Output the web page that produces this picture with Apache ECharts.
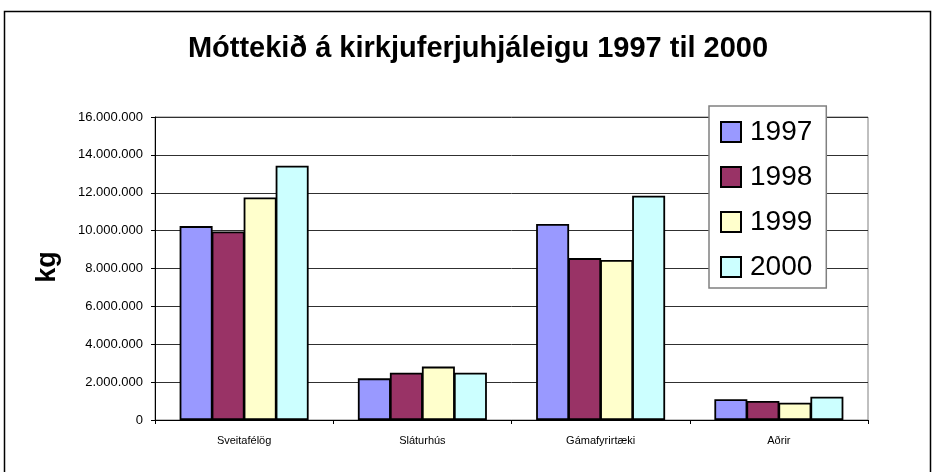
<!DOCTYPE html>
<html>
<head>
<meta charset="utf-8">
<script src="https://cdn.jsdelivr.net/npm/echarts@6/dist/echarts.min.js"></script>
<style>
html,body{margin:0;padding:0;background:#fff;}
#c{width:935px;height:472px;}
</style>
</head>
<body>
<div id="c"></div>
<script>
var titleText = 'Móttekið á kirkjuferjuhjáleigu 1997 til 2000';
var yName = 'kg';
var categories = ['Sveitafélög', 'Sláturhús', 'Gámafyrirtæki', 'Aðrir'];
var seriesNames = ['1997', '1998', '1999', '2000'];
var s1997 = [10240000, 2200000, 10350000, 1100000];
var s1998 = [9950000, 2500000, 8550000, 1000000];
var s1999 = [11750000, 2820000, 8450000, 910000];
var s2000 = [13430000, 2500000, 11840000, 1230000];
var colors = ['#9999FF', '#993366', '#FFFFCC', '#CCFFFF'];
var yMin = 0, yMax = 16000000, yInterval = 2000000;

var FONT = '"Liberation Sans", Arial, sans-serif';
function fmt(v) {
  return String(Math.round(v)).replace(/\B(?=(\d{3})+(?!\d))/g, '.');
}
var allData = [s1997, s1998, s1999, s2000];
var series = seriesNames.map(function (n, i) {
  return {
    name: n,
    type: 'bar',
    data: allData[i],
    barWidth: 33,
    barGap: '-3%',
    itemStyle: { color: colors[i], borderColor: '#000', borderWidth: 1.8 },
    emphasis: { disabled: true },
    animation: false
  };
});

var chart = echarts.init(document.getElementById('c'), null, { renderer: 'canvas' });
chart.setOption({
  animation: false,
  backgroundColor: '#fff',
  grid: {
    left: 155, right: 67, top: 117, bottom: 52,
    show: true, borderColor: '#808080', borderWidth: 1, backgroundColor: 'transparent'
  },
  xAxis: {
    type: 'category',
    data: categories,
    axisLine: { lineStyle: { color: '#000', width: 1 } },
    axisTick: { show: true, inside: false, length: 4, lineStyle: { color: '#000' } },
    axisLabel: { color: '#000', fontSize: 11, fontFamily: FONT, margin: 15 },
    splitLine: { show: false }
  },
  yAxis: {
    type: 'value',
    min: yMin, max: yMax, interval: yInterval,
    axisLine: { show: true, lineStyle: { color: '#000', width: 1 } },
    axisTick: { show: true, inside: false, length: 4, lineStyle: { color: '#000' } },
    axisLabel: { color: '#000', fontSize: 13, fontFamily: FONT, margin: 12, formatter: fmt },
    splitLine: { show: true, lineStyle: { color: '#303030', width: 1 } }
  },
  legend: {
    data: seriesNames,
    orient: 'vertical',
    left: 709, top: 106,
    padding: [12, 14, 7, 11],
    itemWidth: 20, itemHeight: 20, itemGap: 17,
    icon: 'rect',
    backgroundColor: '#fff',
    borderColor: '#808080', borderWidth: 1.5,
    textStyle: { color: '#000', fontSize: 28, fontFamily: FONT, lineHeight: 28, padding: [0, 0, 0, 4] },
    selectedMode: false
  },
  graphic: [
    {
      type: 'rect', silent: true, z: -1,
      shape: { x: 4.5, y: 11.5, width: 926, height: 470 },
      style: { fill: 'none', stroke: '#000', lineWidth: 1.5 }
    },
    {
      type: 'text', silent: true,
      x: 478, y: 49,
      style: { text: titleText, font: 'bold 29px ' + FONT, fill: '#000', textAlign: 'center', textVerticalAlign: 'middle' }
    },
    {
      type: 'text', silent: true,
      x: 48, y: 267, rotation: Math.PI / 2,
      style: { text: yName, font: 'bold 27px ' + FONT, fill: '#000', textAlign: 'center', textVerticalAlign: 'middle' }
    }
  ],
  series: series
});
</script>
</body>
</html>
